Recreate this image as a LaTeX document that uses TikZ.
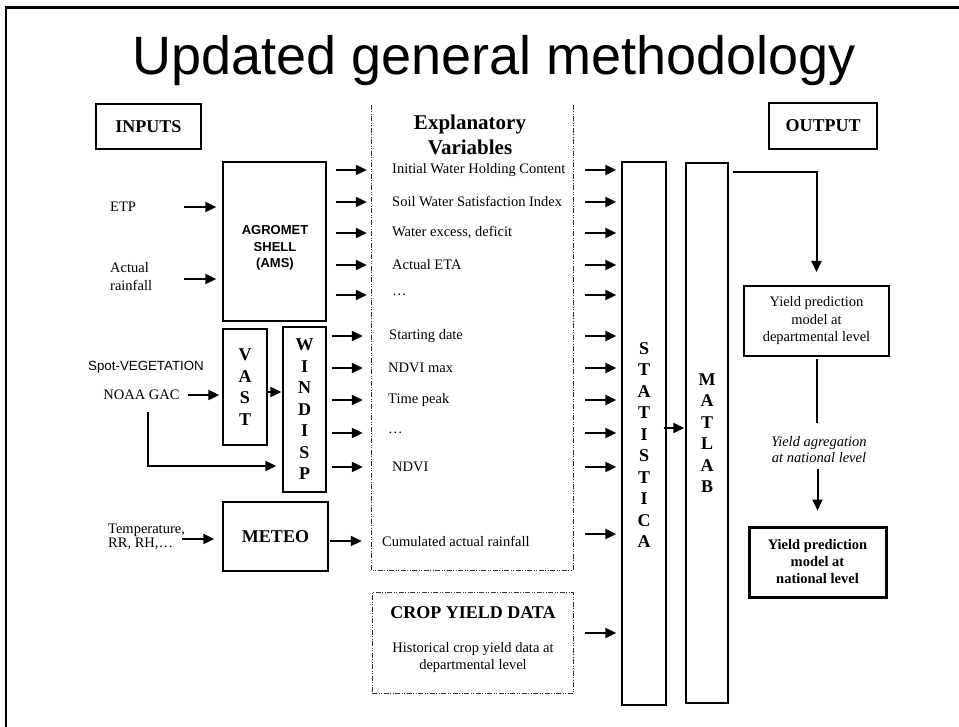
\documentclass[tikz,border=0pt]{standalone}
\usepackage{fontspec}
\setmainfont{Liberation Serif}
\newfontfamily\arialf{Liberation Sans}
\usetikzlibrary{arrows.meta,calc}
\begin{document}
\begin{tikzpicture}[x=1pt,y=-1pt,
  box/.style={draw, line width=1.3pt, inner sep=0pt},
  txt/.style={inner sep=0pt, font=\fontsize{14.5}{17.5}\selectfont},
  var/.style={txt, anchor=west},
  bigb/.style={inner sep=0pt, font=\bfseries\fontsize{18}{21}\selectfont},
  letters/.style={align=center, font=\bfseries\fontsize{18}{21.5}\selectfont},
  arr/.style={line width=2pt, -{Triangle[length=11pt, width=10pt]}},
  dashline/.style={line width=0.9pt, black!80, dash pattern=on 5pt off 1.5pt on 1pt off 1.5pt on 1pt off 1.5pt}
]
\useasboundingbox (0,0) rectangle (959,727);
% frame
\draw[line width=2.7pt] (6,727) -- (6,7.5) -- (959,7.5);
% title
\node[font=\arialf\fontsize{54}{60}\selectfont, anchor=base, inner sep=0pt] (title) at (494,75) {Updated general methodology};

% headers
\node[box, bigb, minimum width=105pt, minimum height=45pt] (inputs) at (148.5,126.5) {INPUTS};
\node[box, bigb, minimum width=108pt, minimum height=46pt] (output) at (823,126) {OUTPUT};

% processing boxes
\node[box, minimum width=103pt, minimum height=159pt] (agro) at (274.5,241.5) {};
\node[align=center, inner sep=0pt, font=\arialf\bfseries\fontsize{13}{16.5}\selectfont] (agrotext) at (275,248) {AGROMET\\SHELL\\(AMS)};
\node[box, letters, minimum width=44pt, minimum height=116pt] (vast) at (245,387) {V\\A\\S\\T};
\node[box, letters, minimum width=43pt, minimum height=165pt] (windisp) at (304.5,409.5) {W\\I\\N\\D\\I\\S\\P};
\node[box, bigb, minimum width=105pt, minimum height=69pt] (meteo) at (275.5,536.5) {METEO};
\node[box, minimum width=44pt, minimum height=543pt] (stat) at (644,433.5) {};
\node[letters, inner sep=0pt] (stattext) at (644,445) {S\\T\\A\\T\\I\\S\\T\\I\\C\\A};
\node[box, letters, minimum width=42pt, minimum height=540pt] (matlab) at (707,433) {M\\A\\T\\L\\A\\B};

% output boxes
\node[box, txt, line width=2pt, align=center, minimum width=145pt, minimum height=70pt] (dept) at (816.5,321) {Yield prediction\\model at\\departmental level};
\node[txt, align=center, font=\itshape\fontsize{14.5}{16}\selectfont] (agg) at (819,449.5) {Yield agregation\\at national level};
\node[box, txt, line width=3pt, align=center, font=\bfseries\fontsize{14.5}{17}\selectfont, minimum width=137pt, minimum height=70pt] (natl) at (817.5,562) {Yield prediction\\model at\\national level};

% inputs texts
\node[var] (etp) at (110,207) {ETP};
\node[var, align=left] (rain) at (110,276.5) {Actual\\rainfall};
\node[inner sep=0pt, font=\arialf\fontsize{13.3}{16}\selectfont] (spot) at (146,367) {Spot-VEGETATION};
\node[txt] (noaa) at (141.5,395) {NOAA GAC};
\node[var, align=left, font=\fontsize{14.5}{14.5}\selectfont] (temp) at (108,537) {Temperature,\\RR, RH,\ldots};

% explanatory variables box
\node[minimum width=201pt, minimum height=465pt, inner sep=0pt] (expl) at (472.5,337.5) {};
\draw[dashline] (expl.north west) -- (expl.south west) -- (expl.south east) -- (expl.north east);
\node[align=center, inner sep=0pt, font=\bfseries\fontsize{21}{25}\selectfont] (expltitle) at (470,134.5) {Explanatory\\Variables};
\node[var] (v1) at (392,170) {Initial Water Holding Content};
\node[var] (v2) at (392,202) {Soil Water Satisfaction Index};
\node[var] (v3) at (392,233) {Water excess, deficit};
\node[var] (v4) at (392,265) {Actual ETA};
\node[var] (v5) at (392,295) {\ldots};
\node[var] (v6) at (389,336) {Starting date};
\node[var] (v7) at (388,368) {NDVI max};
\node[var] (v8) at (388,400) {Time peak};
\node[var] (v9) at (388,433) {\ldots};
\node[var] (v10) at (392,467) {NDVI};
\node[var] (v11) at (382,541) {Cumulated actual rainfall};

% crop yield data box
\node[draw, dashline, minimum width=201pt, minimum height=101pt, inner sep=0pt] (crop) at (472.5,642.5) {};
\node[bigb] (croptitle) at (473,613) {CROP YIELD DATA};
\node[txt, align=center] (crophist) at (473,657.5) {Historical crop yield data at\\departmental level};

% input arrows
\draw[arr, shorten >=6pt] ($(agro.west |- etp)+(-38,0)$) -- (agro.west |- etp);
\coordinate (rainin) at ($(agro.west |- rain)+(0,2.5)$);
\draw[arr, shorten >=6pt] ($(rainin)+(-38,0)$) -- (rainin);
\coordinate (tempin) at ($(meteo.west)+(0,2.5)$);
\draw[arr, shorten >=8pt] ($(tempin)+(-40,0)$) -- (tempin);
\draw[arr, shorten <=8pt, shorten >=3pt] (noaa.east) -- (noaa.east -| vast.west);
\coordinate (vw) at ($(vast.east)+(0,5)$);
\draw[arr, shorten >=1pt] (vw) -- (vw -| windisp.west);
\coordinate (lstart) at ($(noaa.south)+(6.5,12)$);
\coordinate (lend) at ($(windisp.west)+(0,56.5)$);
\draw[arr, shorten >=6pt] (lstart) |- (lend);

% arrows into explanatory box
\foreach \v in {v1,v2,v3,v4,v5}
  \draw[arr, shorten <=9pt, shorten >=5pt] (agro.east |- \v) -- (expl.west |- \v);
\foreach \v in {v6,v7,v8,v9,v10}
  \draw[arr, shorten <=5pt, shorten >=9pt] (windisp.east |- \v) -- (expl.west |- \v);
\draw[arr, shorten <=1pt, shorten >=10pt] (meteo.east |- v11) -- (expl.west |- v11);

% arrows into STATISTICA
\foreach \v in {v1,v2,v3,v4,v5,v6,v7,v8,v9,v10}
  \draw[arr, shorten <=12pt, shorten >=5pt] (expl.east |- \v) -- (stat.west |- \v);
\coordinate (cumout) at ($(expl.east |- v11)+(0,-7)$);
\draw[arr, shorten <=12pt, shorten >=5pt] (cumout) -- (cumout -| stat.west);
\coordinate (cropout) at ($(crop.east)+(0,-9.5)$);
\draw[arr, shorten <=12pt, shorten >=5pt] (cropout) -- (cropout -| stat.west);

% STATISTICA -> MATLAB
\coordinate (sm) at ($(stat.east)+(-3,-5.5)$);
\draw[arr, shorten >=1pt] (sm) -- (sm -| matlab.west);

% MATLAB -> outputs
\coordinate (mo) at ($(matlab.north east)+(4,10)$);
\draw[arr, shorten >=13pt] (mo) -| (dept.north);
\draw[line width=2pt, shorten <=2pt, shorten >=13pt] (dept.south) -- (dept.south |- agg.north);
\draw[arr, shorten <=6pt, shorten >=15pt] (natl.north |- agg.south) -- (natl.north);
\end{tikzpicture}
\end{document}
